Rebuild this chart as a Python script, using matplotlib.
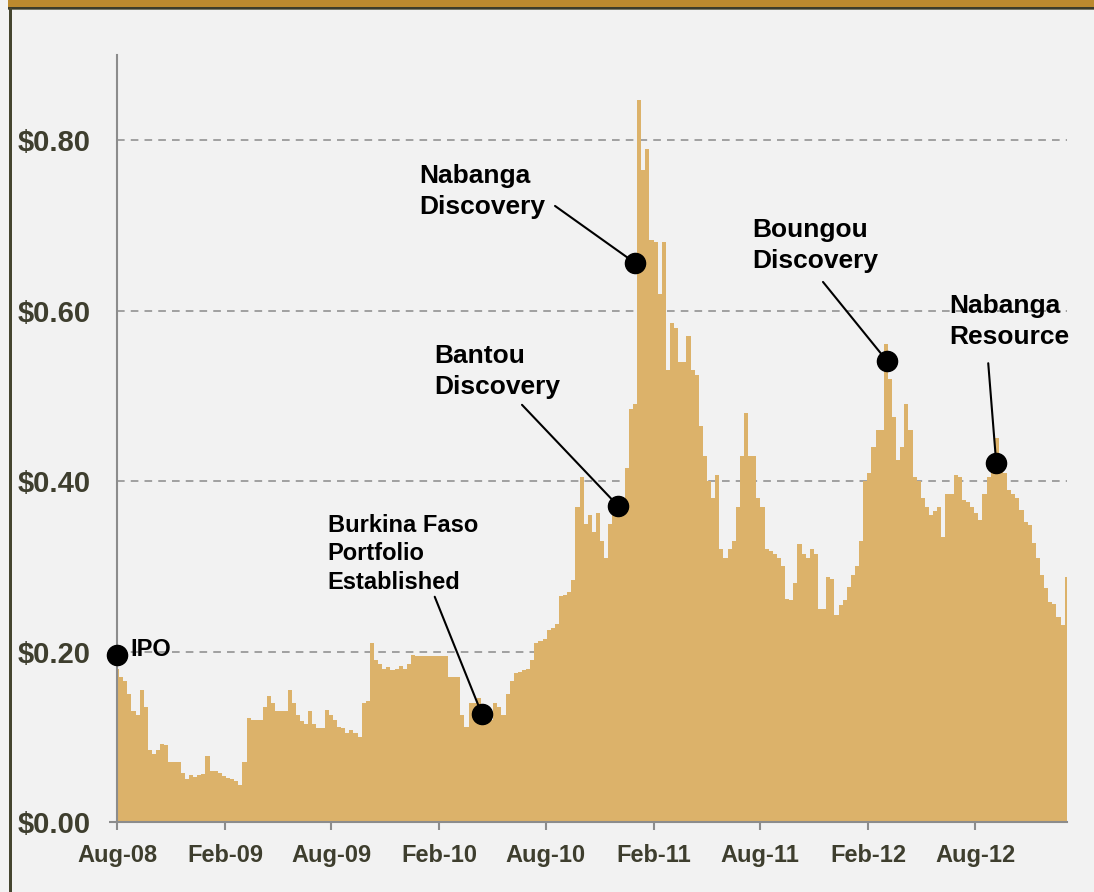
import matplotlib
matplotlib.use("Agg")
import matplotlib.pyplot as plt
from matplotlib.patches import Rectangle
import pandas as pd

# ---------------- data ----------------
start_date = "2008-08-01"
n_weeks = 232
prices = [
    0.180, 0.170, 0.165, 0.150, 0.130, 0.125, 0.155, 0.135, 0.085, 0.080,
    0.085, 0.092, 0.090, 0.070, 0.070, 0.070, 0.058, 0.050, 0.055, 0.053,
    0.055, 0.056, 0.078, 0.060, 0.060, 0.058, 0.054, 0.052, 0.050, 0.048,
    0.043, 0.070, 0.122, 0.120, 0.120, 0.120, 0.135, 0.148, 0.140, 0.130,
    0.130, 0.130, 0.155, 0.140, 0.125, 0.118, 0.115, 0.130, 0.115, 0.110,
    0.110, 0.132, 0.125, 0.120, 0.112, 0.110, 0.105, 0.108, 0.105, 0.100,
    0.140, 0.142, 0.210, 0.190, 0.185, 0.180, 0.182, 0.178, 0.180, 0.183,
    0.180, 0.185, 0.196, 0.195, 0.195, 0.195, 0.195, 0.195, 0.195, 0.195,
    0.195, 0.170, 0.170, 0.170, 0.125, 0.112, 0.140, 0.140, 0.145, 0.125,
    0.118, 0.120, 0.140, 0.135, 0.125, 0.150, 0.165, 0.175, 0.176, 0.178,
    0.180, 0.190, 0.210, 0.212, 0.215, 0.225, 0.228, 0.232, 0.265, 0.266,
    0.270, 0.284, 0.370, 0.405, 0.350, 0.360, 0.340, 0.362, 0.330, 0.310,
    0.350, 0.360, 0.370, 0.360, 0.415, 0.485, 0.490, 0.847, 0.765, 0.790,
    0.683, 0.680, 0.620, 0.680, 0.530, 0.585, 0.580, 0.540, 0.540, 0.570,
    0.530, 0.525, 0.465, 0.430, 0.400, 0.380, 0.407, 0.320, 0.310, 0.320,
    0.330, 0.370, 0.430, 0.480, 0.430, 0.430, 0.380, 0.370, 0.320, 0.318,
    0.315, 0.310, 0.300, 0.262, 0.260, 0.280, 0.326, 0.315, 0.310, 0.320,
    0.315, 0.250, 0.250, 0.288, 0.285, 0.243, 0.255, 0.260, 0.276, 0.290,
    0.300, 0.330, 0.400, 0.410, 0.440, 0.460, 0.460, 0.561, 0.520, 0.475,
    0.425, 0.440, 0.490, 0.460, 0.405, 0.400, 0.380, 0.370, 0.360, 0.365,
    0.370, 0.335, 0.385, 0.385, 0.407, 0.405, 0.378, 0.375, 0.370, 0.362,
    0.354, 0.385, 0.405, 0.413, 0.450, 0.413, 0.410, 0.389, 0.385, 0.380,
    0.366, 0.352, 0.348, 0.327, 0.310, 0.290, 0.275, 0.258, 0.256, 0.240,
    0.231, 0.288,
]

tick_dates = ["2008-08-01", "2009-02-01", "2009-08-01", "2010-02-01", "2010-08-01",
              "2011-02-01", "2011-08-01", "2012-02-01", "2012-08-01"]
tick_labels = ["Aug-08", "Feb-09", "Aug-09", "Feb-10", "Aug-10",
               "Feb-11", "Aug-11", "Feb-12", "Aug-12"]
y_ticks = [0.0, 0.2, 0.4, 0.6, 0.8]
y_labels = ["$0.00", "$0.20", "$0.40", "$0.60", "$0.80"]

event_labels = ["IPO", "Burkina Faso\nPortfolio\nEstablished", "Bantou\nDiscovery",
                "Nabanga\nDiscovery", "Boungou\nDiscovery", "Nabanga\nResource"]
event_dates = ["2008-08-01", "2010-04-14", "2010-12-02", "2010-12-31", "2012-03-04", "2012-09-06"]
event_prices = [0.196, 0.127, 0.371, 0.656, 0.541, 0.421]

# styling (offsets in pixels from event dot)
text_offsets = [(13, 5), (-154, 160), (-184, 134), (-216, 71), (-135, 115), (-47, 142)]
line_offsets = [None, (-47, 117), (-96, 101), (-80, 57), (-64, 79), (-8, 100)]
text_sizes = [17, 17, 19, 19, 19, 19]
line_spacings = [1.2, 1.3, 1.37, 1.37, 1.37, 1.37]

# ---------------- figure ----------------
W, H = 1094, 892
fig = plt.figure(figsize=(W / 100, H / 100), dpi=100)
bg = "#F2F2F2"
fig.patch.set_facecolor(bg)

# frame decoration
fig.add_artist(Rectangle((8 / W, (H - 7.5) / H), 1 - 8 / W, 7.5 / H, transform=fig.transFigure,
                         facecolor="#BC8A2E", edgecolor="none"))
fig.add_artist(Rectangle((8 / W, (H - 9.5) / H), 1 - 8 / W, 2.2 / H, transform=fig.transFigure,
                         facecolor="#3C3C2A", edgecolor="none"))
fig.add_artist(Rectangle((8 / W, (H - 10.3) / H), 1 - 8 / W, 0.9 / H, transform=fig.transFigure,
                         facecolor="#7A7A6A", edgecolor="none"))
fig.add_artist(Rectangle((9 / W, 0), 3 / W, (H - 8) / H, transform=fig.transFigure,
                         facecolor="#45452F", edgecolor="none"))

left, right = 117 / W, 1067.3 / W
bottom, top = (H - 822) / H, (H - 55) / H
ax = fig.add_axes([left, bottom, right - left, top - bottom])
ax.set_facecolor(bg)

dates = pd.date_range(start_date, periods=n_weeks, freq="7D")
ax.fill_between(dates, prices, 0, step="mid", color="#DCB26A", lw=0, zorder=2)

ax.set_xlim(pd.Timestamp("2008-08-01"), pd.Timestamp("2013-01-05"))
ax.set_ylim(0, 0.9)

for v in y_ticks[1:]:
    ax.axhline(v, color="#8A8A8A", lw=1.1, ls=(0, (5, 4)), zorder=1)

for s in ["top", "right"]:
    ax.spines[s].set_visible(False)
for s in ["left", "bottom"]:
    ax.spines[s].set_color("#8C8C8C")
    ax.spines[s].set_linewidth(1.5)
    ax.spines[s].set_zorder(3)

label_color = "#3E3E2E"
fam = ["Liberation Sans", "DejaVu Sans"]
ax.set_yticks(y_ticks)
ax.set_yticklabels(y_labels, fontsize=21, fontweight="bold", color=label_color, family=fam)
ax.tick_params(axis="y", length=5.5, width=1.5, color="#8C8C8C", pad=13.5)
for t in ax.yaxis.get_major_ticks()[1:]:
    t.tick1line.set_visible(False)

ax.set_xticks([pd.Timestamp(d) for d in tick_dates])
ax.set_xticklabels(tick_labels, fontsize=17, fontweight="bold", color=label_color, family=fam)
ax.tick_params(axis="x", length=5.5, width=1.5, color="#8C8C8C", pad=10.5)

# events
for lab, d, p, toff, loff, fs, lsp in zip(event_labels, event_dates, event_prices,
                                           text_offsets, line_offsets, text_sizes, line_spacings):
    xd = pd.Timestamp(d)
    ax.plot([xd], [p], "o", color="black", ms=14.5, zorder=6, clip_on=False)
    if loff is not None:
        ax.annotate("", xy=(xd, p), xytext=loff, textcoords="offset pixels",
                    arrowprops=dict(arrowstyle="-", color="black", lw=1.5,
                                    shrinkA=0, shrinkB=0), zorder=5)
    ax.annotate(lab, xy=(xd, p), xytext=toff, textcoords="offset pixels",
                ha="left", va="center", fontsize=fs, fontweight="bold", color="black",
                family=fam, linespacing=lsp, zorder=7)

fig.savefig("out.png", dpi=100, facecolor=fig.get_facecolor())
